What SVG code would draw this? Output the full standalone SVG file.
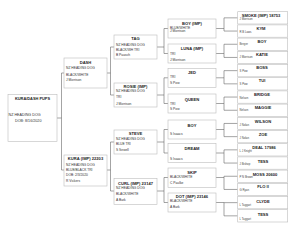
<svg xmlns="http://www.w3.org/2000/svg" width="300" height="232" viewBox="0 0 300 232">
<style>
text{font-family:"Liberation Sans",Arial,sans-serif;fill:#222}
.b{fill:#fff;stroke:#bdbdbd;stroke-width:0.6}
.t{font-weight:bold;font-size:4.1px;text-anchor:middle}
.t5{font-weight:bold;font-size:4.1px;text-anchor:middle}
.s{font-size:3.3px;fill:#333}
.o{font-size:2.8px;fill:#444}
.c{fill:none;stroke:#666;stroke-width:0.6}
</style>
<rect width="300" height="232" fill="#fff"/>
<g id="connectors">
<path class="c" d="M57 118H61.5M61.5 73V170M61.5 73H64M61.5 170H64"/>
<path class="c" d="M107 73H110.5M110.5 47V95M110.5 47H114M110.5 95H114"/>
<path class="c" d="M107 170H110.5M110.5 142V191M110.5 142H114M110.5 191H114"/>
<path class="c" d="M157 47H164M164 28.5V53.5M164 28.5H168M164 53.5H168"/>
<path class="c" d="M157 95H164M164 77.8V103.5M164 77.8H168M164 103.5H168"/>
<path class="c" d="M157 142H164M164 129.5V153M164 129.5H168M164 153H168"/>
<path class="c" d="M157 191H164M164 177.5V202.5M164 177.5H168M164 202.5H168"/>
<path class="c" d="M216 28.5H224M224 17.85V31.05M224 17.85H237.7M224 31.05H237.7"/>
<path class="c" d="M216 53.5H224M224 44.25V57.45M224 44.25H237.7M224 57.45H237.7"/>
<path class="c" d="M216 77.8H224M224 70.65V83.85M224 70.65H237.7M224 83.85H237.7"/>
<path class="c" d="M216 103.5H224M224 97.05V110.25M224 97.05H237.7M224 110.25H237.7"/>
<path class="c" d="M216 129.5H224M224 123.45V136.65M224 123.45H237.7M224 136.65H237.7"/>
<path class="c" d="M216 153H224M224 149.85V163.05M224 149.85H237.7M224 163.05H237.7"/>
<path class="c" d="M216 177.5H224M224 176.25V189.45M224 176.25H237.7M224 189.45H237.7"/>
<path class="c" d="M216 202.5H224M224 202.5V215.85M224 202.65H237.7M224 215.85H237.7"/>
</g>
<g id="n-pups"><rect class="b" x="8" y="94.5" width="49" height="47"/><text class="t" x="32.5" y="100" style="font-size:3.9px">KURA/DASH PUPS</text><text class="s" x="8.5" y="116.3" style="font-size:3.7px">NZ HEADING DOG</text><text class="s" x="15" y="121.8" style="font-size:3.7px">DOB: 8/16/2020</text></g>
<g id="n-dash"><rect class="b" x="64" y="58" width="43" height="30"/><text class="t" x="85.5" y="63.5">DASH</text><text class="s" x="66" y="69.3">NZ HEADING DOG</text><text class="s" x="66" y="76">BLACK/WHITE</text><text class="s" x="66" y="81.2">J Morrison</text></g>
<g id="n-kura"><rect class="b" x="64" y="155" width="43" height="31"/><text class="t" x="85.5" y="159.8">KURA (IMP) 22203</text><text class="s" x="66" y="166.1">NZ HEADING DOG</text><text class="s" x="66" y="170.6">BLUE/BLACK TRI</text><text class="s" x="66" y="175.6">DOB: 2/3/2020</text><text class="s" x="66" y="182.2">R Vickers</text></g>
<g id="n-tag"><rect class="b" x="114" y="35" width="43" height="24"/><text class="t" x="135.5" y="39.5">TAG</text><text class="s" x="116" y="45.5">NZ HEADING DOG</text><text class="s" x="116" y="50.5">BLACK/WH TRI</text><text class="s" x="116" y="55.5">B Paasch</text></g>
<g id="n-rosie"><rect class="b" x="114" y="83" width="43" height="24"/><text class="t" x="135.5" y="88.2">ROSIE (IMP)</text><text class="s" x="116" y="92.2">NZ HEADING DOG</text><text class="s" x="116" y="97.9">TRI</text><text class="s" x="116" y="104.5">J Morrison</text></g>
<g id="n-steve"><rect class="b" x="114" y="130" width="43" height="24"/><text class="t" x="135.5" y="134.8">STEVE</text><text class="s" x="116" y="139.5">NZ HEADING DOG</text><text class="s" x="116" y="145.2">BLUE TRI</text><text class="s" x="116" y="150.5">S Sewell</text></g>
<g id="n-curl"><rect class="b" x="114" y="178.5" width="43" height="26"/><text class="t" x="135.5" y="184.8">CURL (IMP) 23147</text><text class="s" x="116" y="188.9">NZ HEADING DOG</text><text class="s" x="116" y="195.2">BLACK/WHITE</text><text class="s" x="116" y="201.2">A Bark</text></g>
<g id="n-boyimp"><rect class="b" x="168" y="19" width="48" height="19"/><text class="t" x="192" y="24.8">BOY (IMP)</text><text class="s" x="170" y="28.5">BLUE/WHITE</text><text class="s" x="170" y="31.9">J Morrison</text></g>
<g id="n-luna"><rect class="b" x="168" y="44" width="48" height="19"/><text class="t" x="192" y="49.8">LUNA (IMP)</text><text class="s" x="170" y="54.5">TRI</text><text class="s" x="170" y="60.5">J Morrison</text></g>
<g id="n-jed"><rect class="b" x="168" y="68.3" width="48" height="19"/><text class="t" x="192" y="73.8">JED</text><text class="s" x="170" y="77.9">TRI</text><text class="s" x="170" y="83.9">S Pow</text></g>
<g id="n-queen"><rect class="b" x="168" y="94" width="48" height="19"/><text class="t" x="192" y="100.8">QUEEN</text><text class="s" x="170" y="104.5">TRI</text><text class="s" x="170" y="109.9">S Pow</text></g>
<g id="n-boy"><rect class="b" x="168" y="120" width="48" height="19"/><text class="t" x="192" y="126.5">BOY</text><text class="s" x="170" y="135.2">S Isaacs</text></g>
<g id="n-dream"><rect class="b" x="168" y="143.5" width="48" height="19"/><text class="t" x="192" y="149.8">DREAM</text><text class="s" x="170" y="159.5">S Isaacs</text></g>
<g id="n-skip"><rect class="b" x="168" y="168" width="48" height="19.5"/><text class="t" x="192" y="173.8">SKIP</text><text class="s" x="170" y="177.9">BLACK/WHITE</text><text class="s" x="170" y="183.5">C Paulke</text></g>
<g id="n-dot"><rect class="b" x="168" y="193" width="48" height="19"/><text class="t" x="192" y="198.2">DOT (IMP) 23146</text><text class="s" x="170" y="202.2">BLACK/WHITE</text><text class="s" x="170" y="207.9">A Bark</text></g>
<g id="n-smoke"><rect class="b" x="237.7" y="11.7" width="50" height="12.3"/><text class="t5" x="261" y="16.6">SMOKE (IMP) 18753</text><text class="o" x="239.5" y="20">J Morrison</text></g>
<g id="n-kym"><rect class="b" x="237.7" y="24.9" width="50" height="12.3"/><text class="t5" x="261" y="29.8">KYM</text><text class="o" x="239.5" y="33.2">R B Laws</text></g>
<g id="n-boy2"><rect class="b" x="237.7" y="38.1" width="50" height="12.3"/><text class="t5" x="262" y="43">BOY</text><text class="o" x="239.5" y="44.6">Berger</text></g>
<g id="n-katie"><rect class="b" x="237.7" y="51.3" width="50" height="12.3"/><text class="t5" x="262" y="56">KATIE</text><text class="o" x="239.5" y="58">J Morrison</text></g>
<g id="n-boss"><rect class="b" x="237.7" y="64.5" width="50" height="12.3"/><text class="t5" x="262" y="68.5">BOSS</text><text class="o" x="239.5" y="71.5">S Pow</text></g>
<g id="n-tui"><rect class="b" x="237.7" y="77.7" width="50" height="12.3"/><text class="t5" x="262" y="81.8">TUI</text><text class="o" x="239.5" y="84.6">S Pow</text></g>
<g id="n-bridge"><rect class="b" x="237.7" y="90.9" width="50" height="12.3"/><text class="t5" x="262" y="95.6">BRIDGE</text><text class="o" x="239.5" y="98.5">Nelson</text></g>
<g id="n-maggie"><rect class="b" x="237.7" y="104.1" width="50" height="12.3"/><text class="t5" x="263" y="108.9">MAGGIE</text><text class="o" x="239.5" y="111.3">Nelson</text></g>
<g id="n-wilson"><rect class="b" x="237.7" y="117.3" width="50" height="12.3"/><text class="t5" x="263" y="123.2">WILSON</text><text class="o" x="239.5" y="125.5">J Nolan</text></g>
<g id="n-zoe"><rect class="b" x="237.7" y="130.5" width="50" height="12.3"/><text class="t5" x="263" y="135.8">ZOE</text><text class="o" x="239.5" y="138.5">J Nolan</text></g>
<g id="n-deal"><rect class="b" x="237.7" y="143.7" width="50" height="12.3"/><text class="t5" x="264" y="149.2">DEAL 17986</text><text class="o" x="239.5" y="151.8">L J Knight</text></g>
<g id="n-tess1"><rect class="b" x="237.7" y="156.9" width="50" height="12.3"/><text class="t5" x="263" y="162.5">TESS</text><text class="o" x="239.5" y="165.2">J Bishop</text></g>
<g id="n-moss"><rect class="b" x="237.7" y="170.1" width="50" height="12.3"/><text class="t5" x="265" y="175.5">MOSS 20600</text><text class="o" x="239.5" y="177.9">P N Brown</text></g>
<g id="n-flo"><rect class="b" x="237.7" y="183.3" width="50" height="12.3"/><text class="t5" x="263" y="188.2">FLO II</text><text class="o" x="239.5" y="191.2">G Ryan</text></g>
<g id="n-clyde"><rect class="b" x="237.7" y="196.5" width="50" height="12.3"/><text class="t5" x="263" y="203.2">CLYDE</text><text class="o" x="239.5" y="206.2">L Taggart</text></g>
<g id="n-tess2"><rect class="b" x="237.7" y="209.7" width="50" height="12.3"/><text class="t5" x="263" y="215.8">TESS</text><text class="o" x="239.5" y="219.5">L Taggart</text></g>
</svg>
